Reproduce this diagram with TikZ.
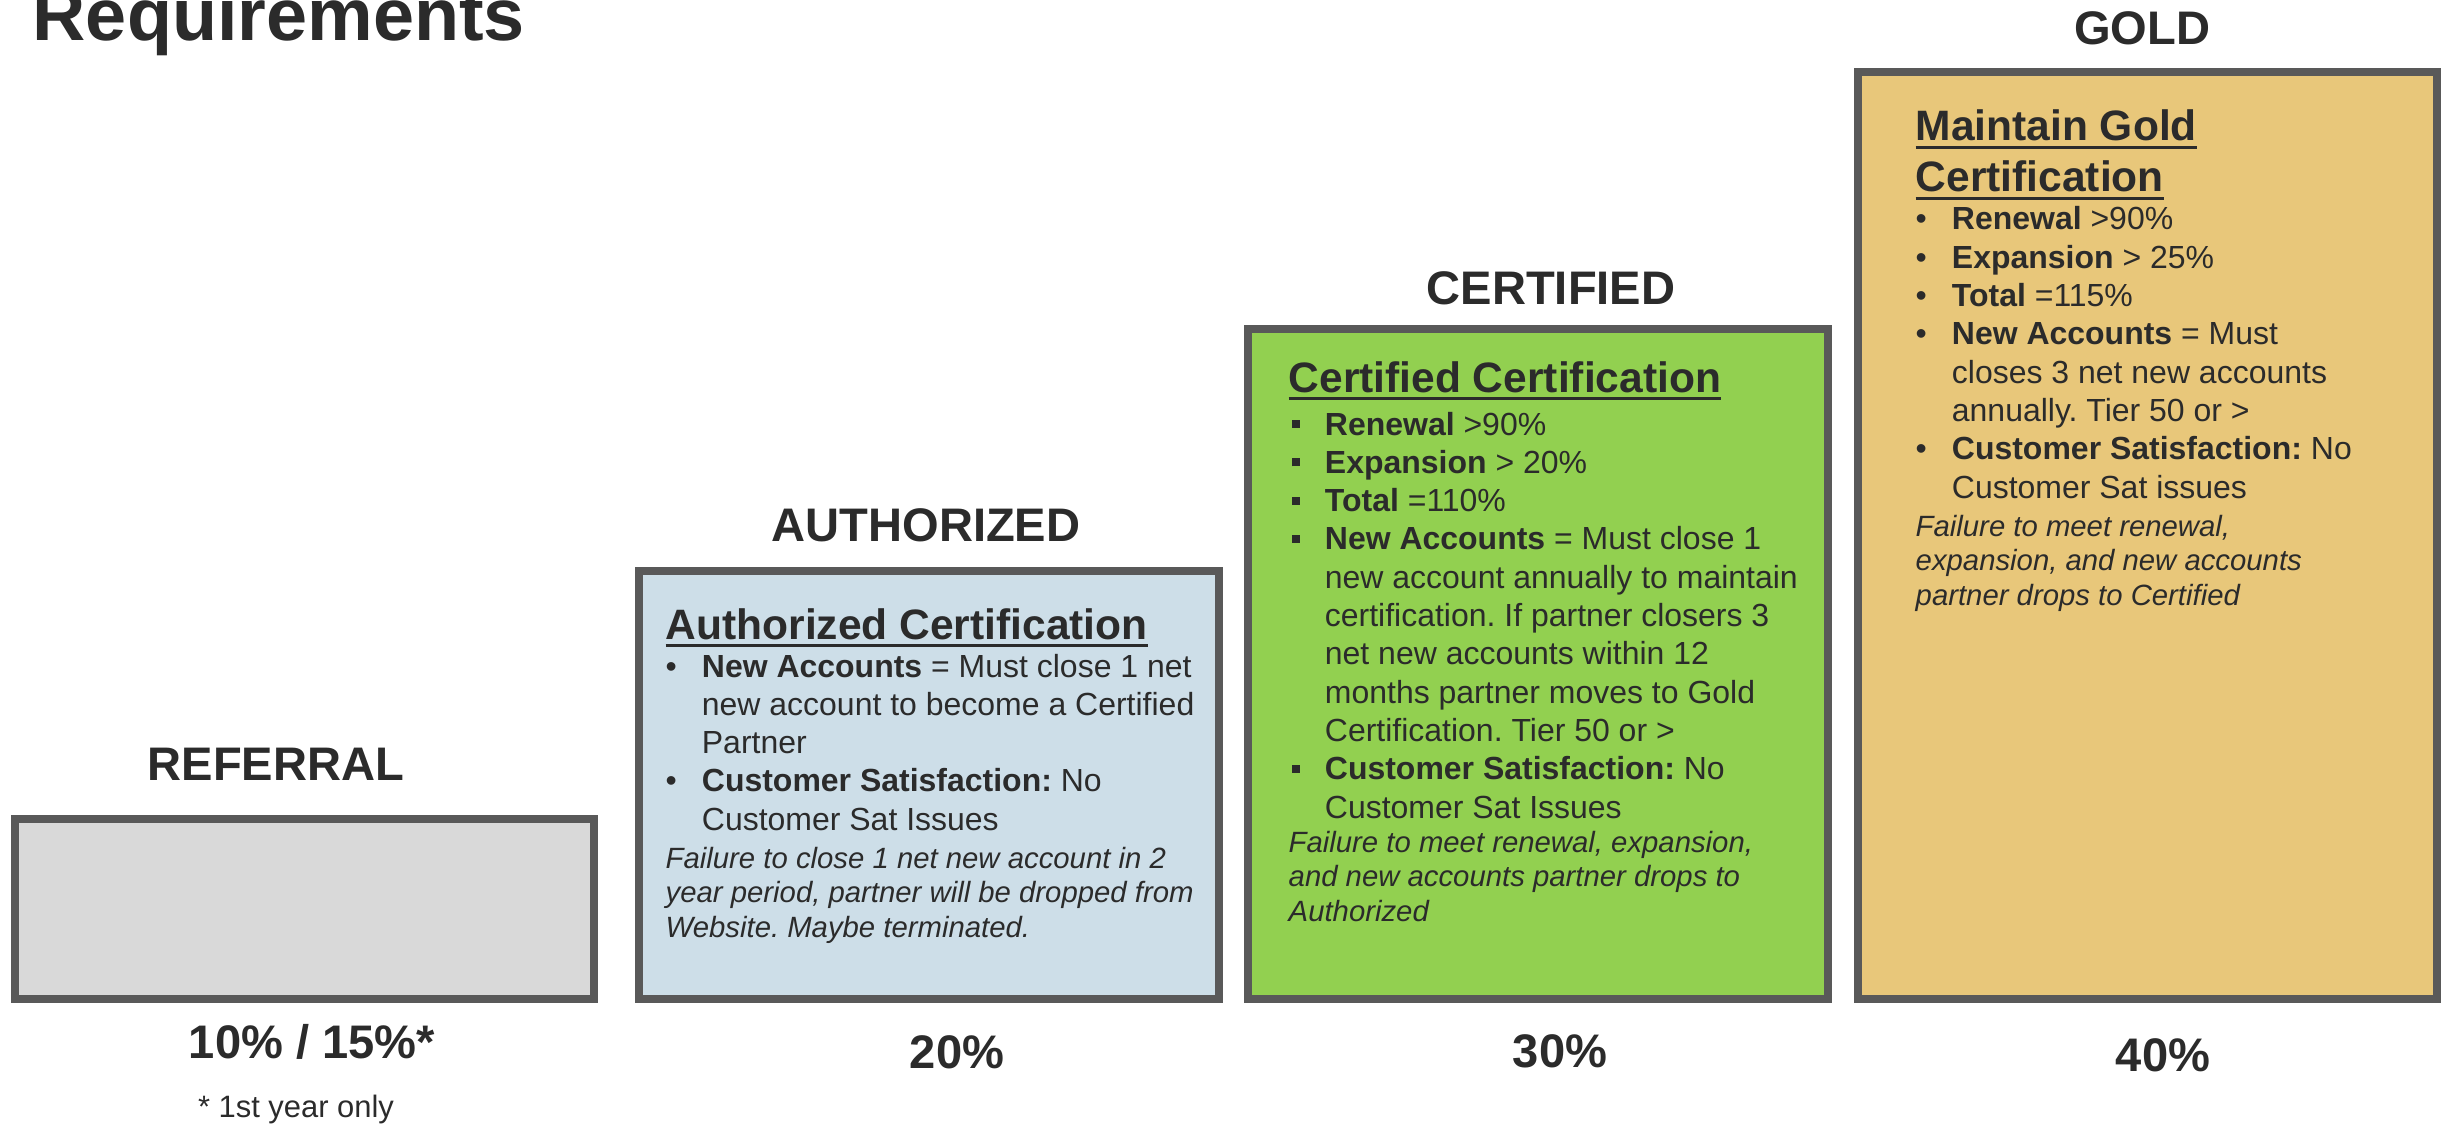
\documentclass[tikz,border=0pt]{standalone}
\usepackage{fontspec}
\setmainfont{Liberation Sans}
\usepackage{xcolor}
\usepackage{tikz}

\definecolor{ink}{HTML}{2B2B2B}
\definecolor{edgegray}{HTML}{595959}
\definecolor{referralgray}{HTML}{D9D9D9}
\definecolor{authblue}{HTML}{CDDEE8}
\definecolor{certgreen}{HTML}{92D050}
\definecolor{goldtan}{HTML}{E8C77A}

\frenchspacing

\newcommand{\boxtitle}[1]{\setbox0=\hbox{#1}\rlap{\rule[-2.3pt]{\wd0}{0.95pt}}\box0}
\newcommand{\rbul}{\makebox[10.3pt][l]{\textbullet}}
\newcommand{\sqbul}{\makebox[10.3pt][l]{\hspace{0.9pt}\rule[2pt]{2.3pt}{2.3pt}}}
\newcommand{\hang}{\hspace*{10.3pt}}

\tikzset{
	tierbox/.style={draw=edgegray, line width=2.28pt},
	tiername/.style={anchor=base, inner sep=0pt, text=ink, font=\bfseries\fontsize{13.4pt}{16pt}\selectfont},
	headtext/.style={anchor=base west, inner sep=0pt, text=ink, font=\bfseries\fontsize{12.1pt}{14.5pt}\selectfont},
	listtext/.style={anchor=base west, inner sep=0pt, text=ink, font=\fontsize{9.1pt}{10.9pt}\selectfont},
	notetext/.style={anchor=base west, inner sep=0pt, text=ink, font=\itshape\fontsize{8.34pt}{9.9pt}\selectfont}
}

\begin{document}
\begin{tikzpicture}

			\useasboundingbox (0,0) rectangle (24.45,11.25);

			\node (heading) [anchor=base west, inner sep=0pt, text=ink, font=\bfseries\fontsize{21pt}{25pt}\selectfont] at (0.32,10.84) {Requirements};

			% the four tiers
			\draw [tierbox, fill=referralgray] (0.15,1.26) rectangle (5.94,3.06);
			\draw [tierbox, fill=authblue] (6.39,1.26) rectangle (12.19,5.54);
			\draw [tierbox, fill=certgreen] (12.48,1.26) rectangle (18.28,7.96);
			\draw [tierbox, fill=goldtan] (18.58,1.26) rectangle (24.37,10.53);

			\node (referral) [tiername] at (2.76,3.45) {REFERRAL};
			\node (authorized) [tiername] at (9.26,5.84) {AUTHORIZED};
			\node (certified) [tiername] at (15.51,8.20) {CERTIFIED};
			\node (gold) [tiername] at (21.42,10.80) {GOLD};

			% authorized
			\node (authhead) [headtext] at (6.65,4.86) {\boxtitle{Authorized Certification}};
			\node (authlist) [listtext] at (6.65,4.48) {\begin{tabular}[t]{@{}l@{}}
				\rbul\textbf{New Accounts} = Must close 1 net\\
				\hang new account to become a Certified\\
				\hang Partner\\
				\rbul\textbf{Customer Satisfaction:} No\\
				\hang Customer Sat Issues
			\end{tabular}};
			\node (authnote) [notetext] at (6.65,2.57) {\begin{tabular}[t]{@{}l@{}}
				Failure to close 1 net new account in 2\\
				year period, partner will be dropped from\\
				Website. Maybe terminated.
			\end{tabular}};

			% certified
			\node (certhead) [headtext] at (12.88,7.33) {\boxtitle{Certified Certification}};
			\node (certlist) [listtext] at (12.88,6.90) {\begin{tabular}[t]{@{}l@{}}
				\sqbul\textbf{Renewal} >90\%\\
				\sqbul\textbf{Expansion} > 20\%\\
				\sqbul\textbf{Total} =110\%\\
				\sqbul\textbf{New Accounts} = Must close 1\\
				\hang new account annually to maintain\\
				\hang certification. If partner closers 3\\
				\hang net new accounts within 12\\
				\hang months partner moves to Gold\\
				\hang Certification. Tier 50 or >\\
				\sqbul\textbf{Customer Satisfaction:} No\\
				\hang Customer Sat Issues
			\end{tabular}};
			\node (certnote) [notetext] at (12.88,2.73) {\begin{tabular}[t]{@{}l@{}}
				Failure to meet renewal, expansion,\\
				and new accounts partner drops to\\
				Authorized
			\end{tabular}};

			% gold
			\node (goldhead) [headtext] at (19.15,9.84) {\begin{tabular}[t]{@{}l@{}}
				\boxtitle{Maintain Gold}\\
				\boxtitle{Certification}
			\end{tabular}};
			\node (goldlist) [listtext] at (19.15,8.95) {\begin{tabular}[t]{@{}l@{}}
				\rbul\textbf{Renewal} >90\%\\
				\rbul\textbf{Expansion} > 25\%\\
				\rbul\textbf{Total} =115\%\\
				\rbul\textbf{New Accounts} = Must\\
				\hang closes 3 net new accounts\\
				\hang annually. Tier 50 or >\\
				\rbul\textbf{Customer Satisfaction:} No\\
				\hang Customer Sat issues
			\end{tabular}};
			\node (goldnote) [notetext] at (19.15,5.89) {\begin{tabular}[t]{@{}l@{}}
				Failure to meet renewal,\\
				expansion, and new accounts\\
				partner drops to Certified
			\end{tabular}};

			% payouts
			\node (refpct) [tiername] at (3.12,0.67) {10\% / 15\%*};
			\node (authpct) [tiername] at (9.57,0.57) {20\%};
			\node (certpct) [tiername] at (15.60,0.58) {30\%};
			\node (goldpct) [tiername] at (21.63,0.54) {40\%};
			\node (firstyear) [anchor=base, inner sep=0pt, text=ink, font=\fontsize{8.8pt}{10pt}\selectfont] at (2.96,0.08) {* 1st year only};

		\end{tikzpicture}
\end{document}
